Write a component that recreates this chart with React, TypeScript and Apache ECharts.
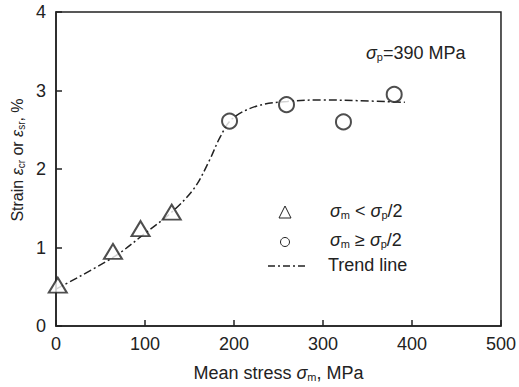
import React, { useEffect, useRef } from "react";
import * as echarts from "echarts";

const lowStressPoints: [number, number][] = [
  [2, 0.52],
  [64, 0.95],
  [95, 1.24],
  [130, 1.45],
];
const highStressPoints: [number, number][] = [
  [195, 2.61],
  [259, 2.82],
  [323, 2.6],
  [380, 2.95],
];
const trendLine: [number, number][] = [
  [0, 0.47],
  [65, 0.88],
  [100, 1.18],
  [130, 1.45],
  [155, 1.75],
  [172, 2.1],
  [185, 2.42],
  [198, 2.64],
  [225, 2.8],
  [260, 2.86],
  [300, 2.88],
  [340, 2.87],
  [392, 2.85],
];
const xTicks = [0, 100, 200, 300, 400, 500];
const yTicks = [0, 1, 2, 3, 4];

const INK = "#222";
const FONT = "Liberation Sans, Arial, sans-serif";

export default function App() {
  const ref = useRef<HTMLDivElement>(null);
  useEffect(() => {
    if (!ref.current) return;
    const chart = echarts.init(ref.current, undefined, { renderer: "svg" });
    const sub = { fontSize: 11, fontFamily: FONT, color: INK, padding: [7, 0, 0, 0] };
    const gsub = { fontSize: 11, fontFamily: FONT, fill: INK, padding: [8, 0, 0, 0] };
    const legendRich = {
      t: { fontSize: 18, fontFamily: FONT, fill: INK },
      i: { fontSize: 18, fontFamily: FONT, fill: INK, fontStyle: "italic" },
      s: gsub,
    };
    chart.setOption({
      animation: false,
      backgroundColor: "#fff",
      grid: {
        left: 56,
        right: 12,
        top: 12,
        bottom: 58,
        show: true,
        borderColor: INK,
        borderWidth: 1.5,
        backgroundColor: "transparent",
      },
      xAxis: {
        type: "value",
        min: xTicks[0],
        max: xTicks[xTicks.length - 1],
        interval: 100,
        axisLine: { lineStyle: { color: INK, width: 1.5 } },
        axisTick: { inside: true, length: 6, lineStyle: { color: INK, width: 1.5 } },
        splitLine: { show: false },
        axisLabel: { color: INK, fontSize: 18, fontFamily: FONT, margin: 9 },
        name: "{t|Mean stress }{i|σ}{s|m}{t|, MPa}",
        nameLocation: "middle",
        nameGap: 38,
        nameTextStyle: {
          rich: {
            t: { fontSize: 18, fontFamily: FONT, color: INK },
            i: { fontSize: 18, fontFamily: FONT, color: INK, fontStyle: "italic" },
            s: sub,
          },
        },
      },
      yAxis: {
        type: "value",
        min: yTicks[0],
        max: yTicks[yTicks.length - 1],
        interval: 1,
        axisLine: { lineStyle: { color: INK, width: 1.5 } },
        axisTick: { inside: true, length: 6, lineStyle: { color: INK, width: 1.5 } },
        splitLine: { show: false },
        axisLabel: { color: INK, fontSize: 18, fontFamily: FONT, margin: 10 },
      },
      series: [
        {
          type: "line",
          data: trendLine,
          smooth: 0.35,
          symbol: "none",
          lineStyle: { color: INK, width: 1.5, type: [8, 3, 2, 3] },
          z: 1,
        },
        {
          type: "scatter",
          data: lowStressPoints,
          symbol: "emptyTriangle",
          symbolSize: [18, 15],
          itemStyle: { color: INK, borderWidth: 0.9 },
          z: 2,
        },
        {
          type: "scatter",
          data: highStressPoints,
          symbol: "emptyCircle",
          symbolSize: 15,
          itemStyle: { color: INK, borderWidth: 0.9 },
          z: 2,
        },
      ],
      graphic: [
        {
          type: "text",
          x: 17,
          y: 160,
          rotation: Math.PI / 2,
          style: {
            text: "{t|Strain }{i|ε}{s|cr}{t| or }{i|ε}{s|sr}{t|, %}",
            align: "center",
            verticalAlign: "middle",
            rich: {
              t: { fontSize: 16, fontFamily: FONT, fill: INK },
              i: { fontSize: 16, fontFamily: FONT, fill: INK, fontStyle: "italic" },
              s: { ...gsub, fontSize: 10 },
            },
          },
        },
        {
          type: "text",
          left: 366,
          top: 44,
          style: { text: "{i|σ}{s|p}{t|=390 MPa}", rich: legendRich },
        },
        {
          type: "polygon",
          shape: { points: [[285, 206], [279, 218], [291, 218]] },
          style: { fill: "none", stroke: INK, lineWidth: 1 },
        },
        {
          type: "circle",
          shape: { cx: 285, cy: 242, r: 4.5 },
          style: { fill: "none", stroke: INK, lineWidth: 1 },
        },
        {
          type: "line",
          shape: { x1: 268, y1: 266, x2: 306, y2: 266 },
          style: { stroke: INK, lineWidth: 1.5, lineDash: [7, 3, 2, 3] },
        },
        {
          type: "text",
          left: 330,
          top: 202,
          style: { text: "{i|σ}{s|m}{t| < }{i|σ}{s|p}{t|/2}", rich: legendRich },
        },
        {
          type: "text",
          left: 330,
          top: 231,
          style: { text: "{i|σ}{s|m}{t| ≥ }{i|σ}{s|p}{t|/2}", rich: legendRich },
        },
        {
          type: "text",
          left: 328,
          top: 256,
          style: { text: "Trend line", fontSize: 18, fontFamily: FONT, fill: INK },
        },
      ],
    });
    return () => chart.dispose();
  }, []);
  return (
    <div
      ref={ref}
      style={{ position: "fixed", left: 0, top: 0, width: 519, height: 387 }}
    />
  );
}
